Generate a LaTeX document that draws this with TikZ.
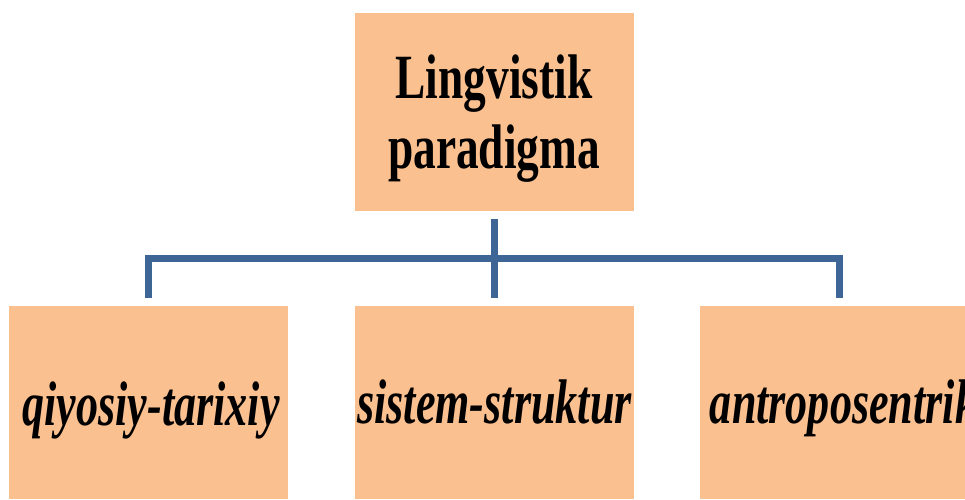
\documentclass[tikz,border=0pt]{standalone}
\usepackage{fontspec}
\setmainfont{Liberation Serif}
\definecolor{peach}{HTML}{FAC090}
\definecolor{linkblue}{HTML}{3D6596}
\begin{document}
\begin{tikzpicture}[x=1pt,y=-1pt,
  box/.style={rectangle, fill=peach, draw=none, inner sep=0pt, minimum width=279pt, minimum height=198pt},
  lowbox/.style={box, minimum height=193pt},
  label/.style={inner sep=0pt, anchor=base, font=\fontsize{63}{70}\selectfont},
  conn/.style={draw=linkblue, line width=7pt}]
\useasboundingbox (0,0) rectangle (965,499);
\clip (0,0) rectangle (965,499);
\fill[white] (0,0) rectangle (965,499);
\node[box] (top) at (494,112) {};
\node[lowbox] (left) at (148.5,402.5) {};
\node[lowbox] (mid) at (494,402.5) {};
\node[lowbox] (right) at (839.5,402.5) {};
\node[label] (toptext) at (494,98) {\scalebox{0.72}[1]{\bfseries\begin{tabular}[t]{@{}c@{}}Lingvistik\\paradigma\end{tabular}}};
\node[label] (lefttext) at (151,425) {\scalebox{0.7}[1]{\bfseries\itshape qiyosiy-tarixiy}};
\node[label] (midtext) at (494.5,423) {\scalebox{0.7}[1]{\bfseries\itshape sistem-struktur}};
\node[label] (righttext) at (843.5,423) {\scalebox{0.7}[1]{\bfseries\itshape antroposentrik}};
\coordinate (bar) at (494,258);
\draw[conn] ([yshift=-8pt]top.south) -- ([yshift=8pt]mid.north);
\draw[conn] ([yshift=8pt]left.north) |- (bar) -| ([yshift=8pt]right.north);
\end{tikzpicture}
\end{document}
